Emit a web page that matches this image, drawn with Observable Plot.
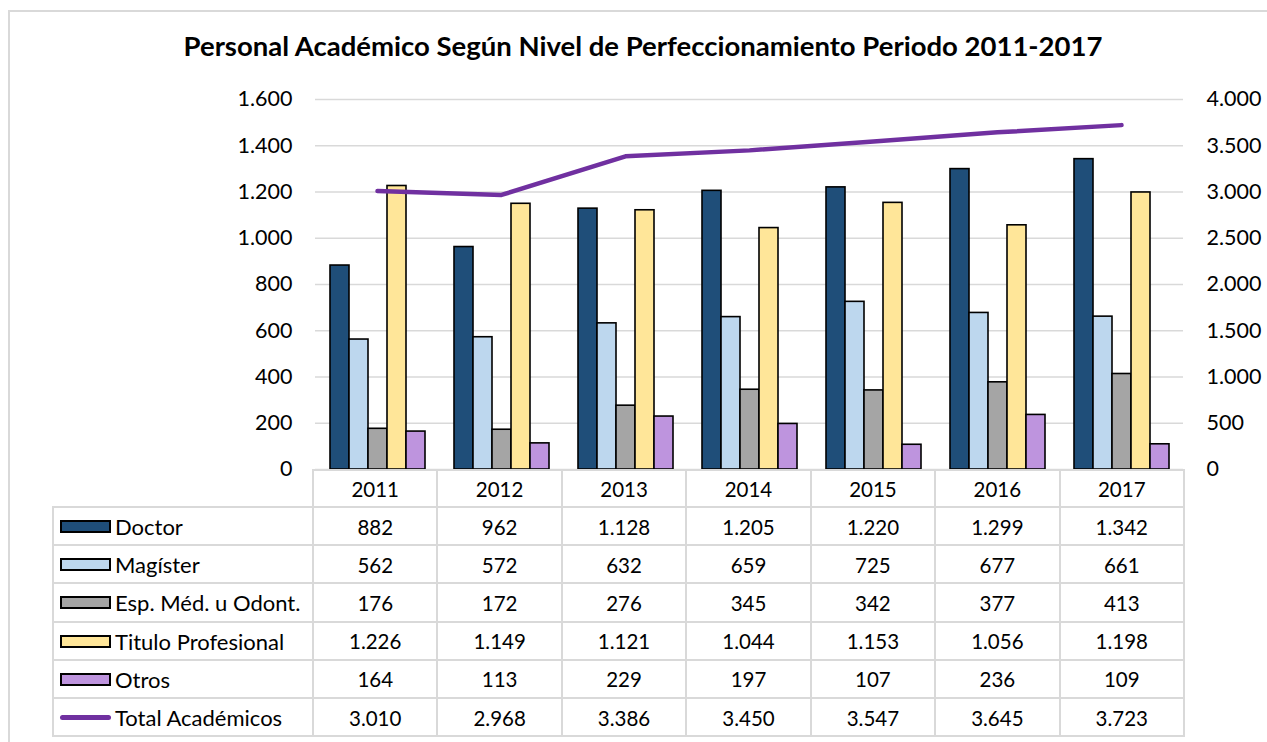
<!DOCTYPE html>
<html>
<head>
<meta charset="utf-8">
<script src="https://cdn.jsdelivr.net/npm/d3@7"></script>
<script src="https://cdn.jsdelivr.net/npm/@observablehq/plot@0.6"></script>
<style>
  html, body { margin: 0; padding: 0; background: #fff; overflow: hidden; }
  #wrap { position: relative; width: 1267px; height: 742px; font-family: Lato, "Open Sans", sans-serif; color: #000; }
  #frame { position: absolute; left: 8px; top: 10px; width: 1300px; height: 800px; border: 2px solid #d9d9d9; box-sizing: border-box; }
  #title { position: absolute; left: 8px; width: 1270px; top: 29px; text-align: center; font-weight: bold; font-size: 27.5px; }
  .layer { position: absolute; left: 0; top: 0; }
  .cell { position: absolute; box-sizing: border-box; border: 2px solid #d9d9d9; font-size: 20.5px; display: flex; align-items: center; justify-content: center; padding-top: 1px; }
  .lab { justify-content: flex-start; font-size: 22px; }
  .sw { width: 51px; height: 13px; box-sizing: border-box; border: 2px solid #000; margin-left: 6px; margin-right: 4px; }
  .swl { width: 51px; height: 5px; border-radius: 3px; background: #7030A0; margin-left: 6px; margin-right: 4px; }
</style>
</head>
<body>
<div id="wrap">
  <div id="frame"></div>
  <div id="title">Personal Académico Según Nivel de Perfeccionamiento Periodo 2011-2017</div>
</div>
<script>
// ---- data ----
const years = ["2011", "2012", "2013", "2014", "2015", "2016", "2017"];
const seriesNames = ["Doctor", "Magíster", "Esp. Méd. u Odont.", "Titulo Profesional", "Otros"];
const doctor   = [882, 962, 1128, 1205, 1220, 1299, 1342];
const magister = [562, 572, 632, 659, 725, 677, 661];
const espMed   = [176, 172, 276, 345, 342, 377, 413];
const titulo   = [1226, 1149, 1121, 1044, 1153, 1056, 1198];
const otros    = [164, 113, 229, 197, 107, 236, 109];
const totalName = "Total Académicos";
const total    = [3010, 2968, 3386, 3450, 3547, 3645, 3723];
const leftTicks  = [0, 200, 400, 600, 800, 1000, 1200, 1400, 1600];
const rightTicks = [0, 500, 1000, 1500, 2000, 2500, 3000, 3500, 4000];
const seriesColors = ["#1F4E79", "#BDD7EE", "#A5A5A5", "#FFE699", "#BE94DE"];
const lineColor = "#7030A0";

// ---- derived ----
const seriesValues = [doctor, magister, espMed, titulo, otros];
const bars = [];
seriesNames.forEach((s, j) => years.forEach((y, i) => bars.push({year: y, series: s, value: seriesValues[j][i]})));
const totals = years.map((y, i) => ({year: y, value: total[i]}));
const fmt = d3.formatLocale({decimal: ",", thousands: ".", grouping: [3], currency: ["", ""]}).format(",d");

// ---- layout ----
const W = 1267, H = 480;
const mL = 313, mR = 83, mT = 99, mB = 11;
const style = {fontFamily: "Lato, 'Open Sans', sans-serif", fontSize: "21.5px", background: "transparent", color: "#000", overflow: "visible"};

const barPlot = Plot.plot({
  width: W, height: H, marginLeft: mL, marginRight: mR, marginTop: mT, marginBottom: mB,
  style,
  fx: {domain: years, padding: 0, axis: null, label: null},
  x: {domain: seriesNames, paddingInner: 0, paddingOuter: 0.74, axis: null},
  y: {domain: [0, 1600], ticks: leftTicks, tickFormat: fmt, tickSize: 0, tickPadding: 23, label: null},
  color: {domain: seriesNames, range: seriesColors},
  marks: [
    Plot.ruleY(leftTicks, {stroke: "#d9d9d9", strokeWidth: 1.5}),
    Plot.barY(bars, {fx: "year", x: "series", y: "value", fill: "series", stroke: "#000", strokeWidth: 1.6})
  ]
});
barPlot.classList.add("layer");

const linePlot = Plot.plot({
  width: W, height: H, marginLeft: mL, marginRight: mR, marginTop: mT, marginBottom: mB,
  style,
  x: {type: "point", domain: years, padding: 0.5, axis: null},
  y: {domain: [0, 4000], ticks: rightTicks, tickFormat: fmt, tickSize: 0, tickPadding: 22, label: null, axis: "right"},
  marks: [
    Plot.lineY(totals, {x: "year", y: "value", stroke: lineColor, strokeWidth: 4.5, strokeLinecap: "round"})
  ]
});
linePlot.classList.add("layer");

const wrap = document.getElementById("wrap");
wrap.appendChild(barPlot);
wrap.appendChild(linePlot);

// ---- data table ----
const tblLeft = 53, colStart = mL, colW = (W - mL - mR) / years.length;
const rowTop = 470, headH = 37, rowH = 38.2;
function cell(x, y, w, h, cls) {
  const d = document.createElement("div");
  d.className = "cell" + (cls ? " " + cls : "");
  d.style.left = (x - 1) + "px"; d.style.top = (y - 1) + "px";
  d.style.width = (w + 2) + "px"; d.style.height = (h + 2) + "px";
  wrap.appendChild(d);
  return d;
}
years.forEach((y, i) => { cell(colStart + i * colW, rowTop, colW, headH).textContent = y; });
const rows = seriesNames.map((s, j) => ({name: s, vals: seriesValues[j], color: seriesColors[j]}));
rows.push({name: totalName, vals: total, line: true});
rows.forEach((r, k) => {
  const yy = rowTop + headH + k * rowH;
  const lc = cell(tblLeft, yy, colStart - tblLeft, rowH, "lab");
  const sw = document.createElement("div");
  if (r.line) { sw.className = "swl"; } else { sw.className = "sw"; sw.style.background = r.color; }
  lc.appendChild(sw);
  const t = document.createElement("span"); t.textContent = r.name; lc.appendChild(t);
  r.vals.forEach((v, i) => { cell(colStart + i * colW, yy, colW, rowH).textContent = fmt(v); });
});
</script>
</body>
</html>
